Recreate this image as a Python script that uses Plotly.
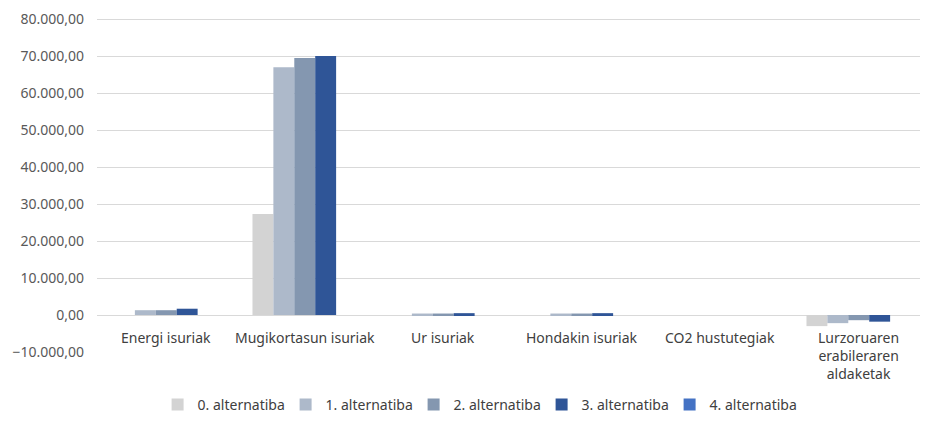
import plotly.graph_objects as go

# Categories and values
categories = ['Energi isuriak', 'Mugikortasun isuriak', 'Ur isuriak',
              'Hondakin isuriak', 'CO2 hustutegiak', 'Lurzoruaren']
cat_labels = ['Energi isuriak', 'Mugikortasun isuriak', 'Ur isuriak',
              'Hondakin isuriak', 'CO2 hustutegiak',
              'Lurzoruaren<br>erabileraren<br>aldaketak']

alt0 = [0, 27300, 0, 0, 0, -3000]
alt1 = [1300, 67000, 400, 400, 0, -2200]
alt2 = [1300, 69500, 400, 400, 0, -1400]
alt3 = [1700, 70000, 500, 500, 0, -1800]
alt4 = [0, 0, 0, 0, 0, 0]

series_names = ['0. alternatiba', '1. alternatiba', '2. alternatiba',
                '3. alternatiba', '4. alternatiba']
series_values = [alt0, alt1, alt2, alt3, alt4]
colors = ['#D3D3D3', '#ADB9CA', '#8497B0', '#2F5597', '#4472C4']

tick_vals = [-10000, 0, 10000, 20000, 30000, 40000, 50000, 60000, 70000, 80000]

fig = go.Figure()
for name, vals, col in zip(series_names, series_values, colors):
    fig.add_trace(go.Bar(x=categories, y=vals, name=name, marker_color=col,
                         marker_line_width=0))

# category labels sit just below the zero line, like Excel
annotations = [dict(x=c, y=0, xref='x', yref='y', text=t, showarrow=False,
                    yanchor='top', yshift=-11, font=dict(size=14, color='#404040'))
               for c, t in zip(categories, cat_labels)]

# page body keeps a default 8px margin, so the figure is 8px smaller
fig.update_layout(
    width=920, height=413,
    paper_bgcolor='white', plot_bgcolor='white',
    font=dict(family='Noto Sans', size=14, color='#595959'),
    separators=',.',
    barmode='group', bargap=0.245, bargroupgap=0,
    margin=dict(l=89, r=0, t=10, b=69),
    annotations=annotations,
    legend=dict(orientation='h', x=0.458, xanchor='center',
                yref='container', y=-0.01, yanchor='bottom',
                entrywidth=83, font=dict(size=14, color='#404040'),
                itemwidth=30, tracegroupgap=0),
    xaxis=dict(showticklabels=False, showline=False, showgrid=False, ticks=''),
    yaxis=dict(range=[-10000, 80300], tickvals=tick_vals, tickformat=',.2f',
               showgrid=True, gridcolor='#D9D9D9', gridwidth=1,
               zeroline=True, zerolinecolor='#D9D9D9', zerolinewidth=1,
               showline=False, ticks='', ticklabelstandoff=12),
)

fig.write_html("out.html")
